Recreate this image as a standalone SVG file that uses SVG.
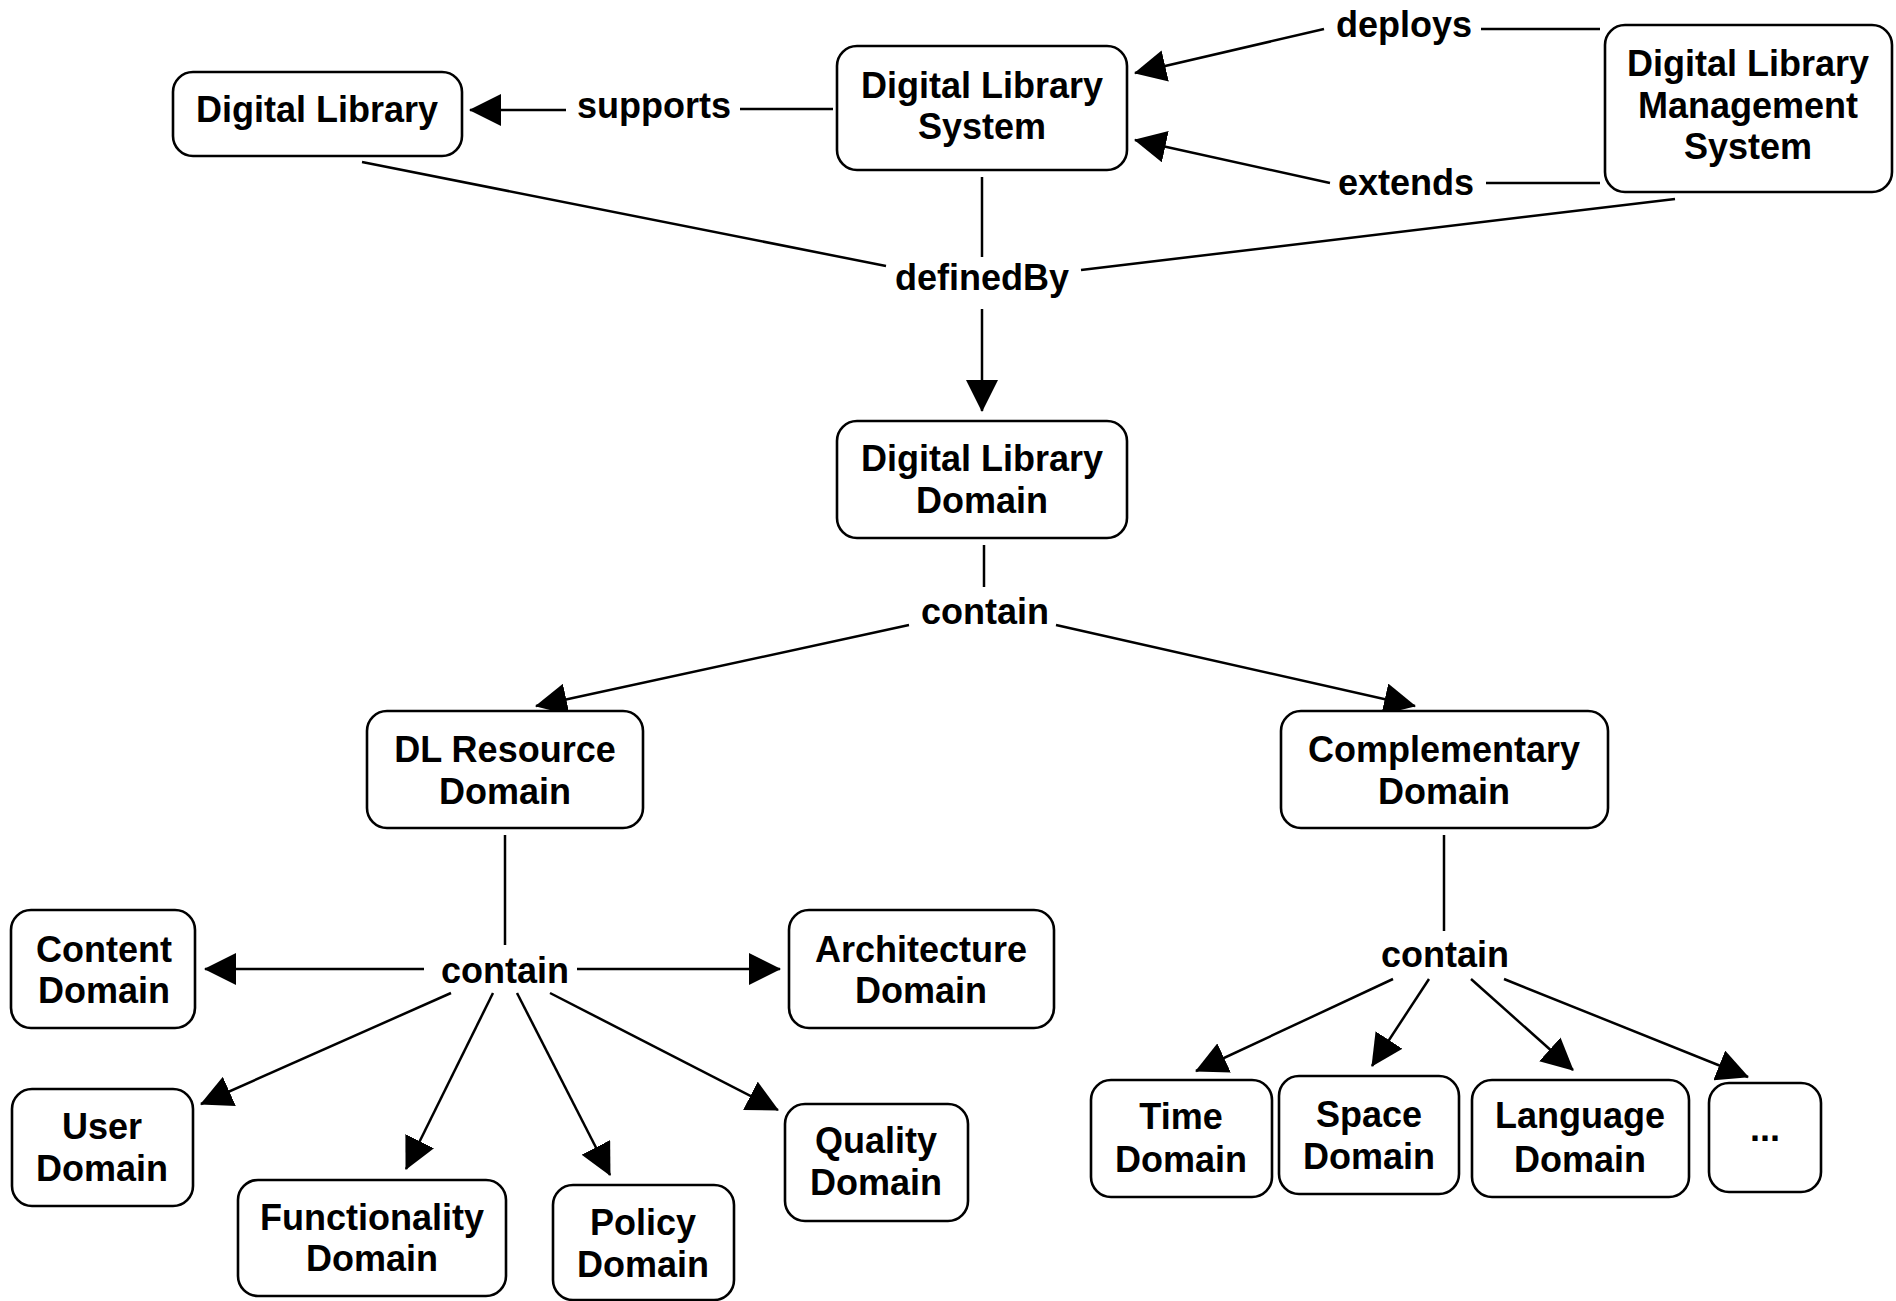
<svg xmlns="http://www.w3.org/2000/svg" width="1896" height="1301" viewBox="0 0 1896 1301">
<style>
.box{fill:#fff;stroke:#000;stroke-width:2.6}
.t{font-family:"Liberation Sans",Arial,sans-serif;font-weight:bold;font-size:36px;text-anchor:middle;fill:#000}
.ln{stroke:#000;stroke-width:2.5;fill:none}
.ar{stroke:#000;stroke-width:2.5;fill:none;marker-end:url(#ah)}
</style>
<defs>
<marker id="ah" markerUnits="userSpaceOnUse" markerWidth="32" markerHeight="32" refX="31" refY="16" orient="auto" viewBox="0 0 32 32">
<path d="M0,0 L32,16 L0,32 z" fill="#000"/>
</marker>
</defs>
<rect width="1896" height="1301" fill="#fff"/>
<g id="connectors">
<line class="ln" x1="833" y1="109" x2="740" y2="109"/>
<line class="ar" x1="566" y1="110" x2="470" y2="110"/>
<line class="ln" x1="1600" y1="29" x2="1481" y2="29"/>
<line class="ar" x1="1324" y1="29" x2="1135" y2="73"/>
<line class="ln" x1="1600" y1="183" x2="1486" y2="183"/>
<line class="ar" x1="1330" y1="183" x2="1135" y2="140"/>
<line class="ln" x1="982" y1="177" x2="982" y2="257"/>
<line class="ln" x1="362" y1="162" x2="886" y2="266"/>
<line class="ln" x1="1675" y1="199" x2="1081" y2="270"/>
<line class="ar" x1="982" y1="309" x2="982" y2="411"/>
<line class="ln" x1="984" y1="545" x2="984" y2="587"/>
<line class="ar" x1="909" y1="625" x2="536" y2="706"/>
<line class="ar" x1="1056" y1="625" x2="1415" y2="706"/>
<line class="ln" x1="505" y1="835" x2="505" y2="945"/>
<line class="ar" x1="424" y1="969" x2="205" y2="969"/>
<line class="ar" x1="577" y1="969" x2="780" y2="969"/>
<line class="ar" x1="451" y1="993" x2="201" y2="1104"/>
<line class="ar" x1="493" y1="993" x2="406" y2="1169"/>
<line class="ar" x1="517" y1="993" x2="610" y2="1175"/>
<line class="ar" x1="550" y1="993" x2="778" y2="1110"/>
<line class="ln" x1="1444" y1="835" x2="1444" y2="931"/>
<line class="ar" x1="1393" y1="979" x2="1196" y2="1071"/>
<line class="ar" x1="1429" y1="979" x2="1372" y2="1066"/>
<line class="ar" x1="1471" y1="979" x2="1573" y2="1070"/>
<line class="ar" x1="1504" y1="979" x2="1748" y2="1077"/>
<text class="t" x="654" y="118">supports</text>
<text class="t" x="1404" y="37">deploys</text>
<text class="t" x="1406" y="195">extends</text>
<text class="t" x="982" y="290">definedBy</text>
<text class="t" x="985" y="624">contain</text>
<text class="t" x="505" y="983">contain</text>
<text class="t" x="1445" y="967">contain</text>
</g>
<g id="n-dl"><rect class="box" x="173" y="72" width="289" height="84" rx="20"/><text class="t" x="317" y="122">Digital Library</text></g>
<g id="n-dls"><rect class="box" x="837" y="46" width="290" height="124" rx="20"/><text class="t" x="982" y="98">Digital Library</text><text class="t" x="982" y="139">System</text></g>
<g id="n-dlms"><rect class="box" x="1605" y="25" width="287" height="167" rx="20"/><text class="t" x="1748" y="76">Digital Library</text><text class="t" x="1748" y="118">Management</text><text class="t" x="1748" y="159">System</text></g>
<g id="n-dld"><rect class="box" x="837" y="421" width="290" height="117" rx="20"/><text class="t" x="982" y="471">Digital Library</text><text class="t" x="982" y="513">Domain</text></g>
<g id="n-dlr"><rect class="box" x="367" y="711" width="276" height="117" rx="20"/><text class="t" x="505" y="762">DL Resource</text><text class="t" x="505" y="804">Domain</text></g>
<g id="n-comp"><rect class="box" x="1281" y="711" width="327" height="117" rx="20"/><text class="t" x="1444" y="762">Complementary</text><text class="t" x="1444" y="804">Domain</text></g>
<g id="n-content"><rect class="box" x="11" y="910" width="184" height="118" rx="20"/><text class="t" x="104" y="962">Content</text><text class="t" x="104" y="1003">Domain</text></g>
<g id="n-arch"><rect class="box" x="789" y="910" width="265" height="118" rx="20"/><text class="t" x="921" y="962">Architecture</text><text class="t" x="921" y="1003">Domain</text></g>
<g id="n-user"><rect class="box" x="12" y="1089" width="181" height="117" rx="20"/><text class="t" x="102" y="1139">User</text><text class="t" x="102" y="1181">Domain</text></g>
<g id="n-func"><rect class="box" x="238" y="1180" width="268" height="116" rx="20"/><text class="t" x="372" y="1230">Functionality</text><text class="t" x="372" y="1271">Domain</text></g>
<g id="n-policy"><rect class="box" x="553" y="1185" width="181" height="115" rx="20"/><text class="t" x="643" y="1235">Policy</text><text class="t" x="643" y="1277">Domain</text></g>
<g id="n-quality"><rect class="box" x="785" y="1104" width="183" height="117" rx="20"/><text class="t" x="876" y="1153">Quality</text><text class="t" x="876" y="1195">Domain</text></g>
<g id="n-time"><rect class="box" x="1091" y="1080" width="181" height="117" rx="20"/><text class="t" x="1181" y="1129">Time</text><text class="t" x="1181" y="1172">Domain</text></g>
<g id="n-space"><rect class="box" x="1279" y="1076" width="180" height="118" rx="20"/><text class="t" x="1369" y="1127">Space</text><text class="t" x="1369" y="1169">Domain</text></g>
<g id="n-lang"><rect class="box" x="1472" y="1080" width="217" height="117" rx="20"/><text class="t" x="1580" y="1128">Language</text><text class="t" x="1580" y="1172">Domain</text></g>
<g id="n-more"><rect class="box" x="1709" y="1083" width="112" height="109" rx="20"/><text class="t" x="1765" y="1141">...</text></g>
</svg>
